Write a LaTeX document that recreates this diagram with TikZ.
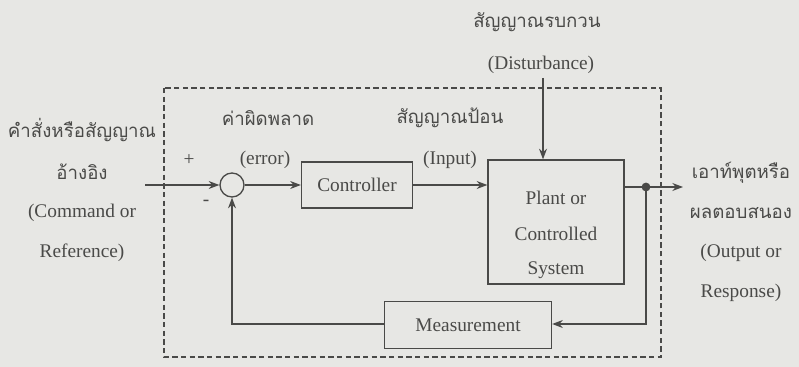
\documentclass[tikz,border=0pt]{standalone}
\usepackage{fontspec}
\setmainfont{Liberation Serif}
\newfontfamily\thaifont[Script=Thai]{Loma}
\usetikzlibrary{arrows.meta}
\definecolor{bg}{HTML}{E7E7E4}
\definecolor{ink}{HTML}{4A4A48}
\begin{document}
\begin{tikzpicture}[x=0.75pt,y=-0.75pt,
  every node/.style={text=ink,font=\fontsize{14.5}{16}\selectfont},
  thai/.style={font=\thaifont\fontsize{14}{16}\selectfont},
  blk/.style={draw=ink,line width=1pt,inner sep=0pt},
  wire/.style={draw=ink,line width=1pt},
  arr/.style={wire,-{Stealth[length=8pt,width=6pt]}}]
\fill[bg] (0,0) rectangle (799,367);
\useasboundingbox (0,0) rectangle (799,367);
% dashed system boundary
\draw[ink,line width=0.9pt,dash pattern=on 4pt off 2.5pt] (164,88) rectangle (661,357);
% blocks
\node[circle,draw=ink,line width=1pt,minimum size=24*0.75pt,inner sep=0pt] (sum) at (232,185) {};
\node[blk,minimum width=111*0.75pt,minimum height=46*0.75pt] (ctrl) at (357,185) {Controller};
\node[blk,minimum width=136*0.75pt,minimum height=124*0.75pt] (plant) at (556,222) {};
\node at (556,198) {Plant or};
\node at (556,234) {Controlled};
\node at (556,270) {System};
\node[blk,minimum width=167*0.75pt,minimum height=47*0.75pt] (meas) at (468,325) {Measurement};
% coordinates
\coordinate (in) at (145,185);
\coordinate (dist) at (543,78);
\coordinate (br) at (646,187);
\coordinate (out) at (683,187);
\coordinate (fb) at (646,324);
\coordinate (fl) at (232,324);
% connectors
\draw[arr] (in) -- (sum.west);
\draw[arr] (sum.east) -- (ctrl.west);
\draw[arr] (ctrl.east) -- (plant.west |- ctrl.east);
\draw[arr] (dist) -- (dist |- plant.north);
\draw[wire] (plant.east |- br) -- (br);
\draw[arr] (br) -- (out);
\fill[ink] (br) circle (3.3pt);
\draw[arr] (br) -- (fb) -- (meas.east |- fb);
\draw[arr] (meas.west |- fl) -- (fl) -- (sum.south);
% signs
\node at (189,160) {+};
\node at (206,203) {-};
% labels
\node[thai] (lref1) at (82,130) {คำสั่งหรือสัญญาณ};
\node[thai] (lref2) at (82,172) {อ้างอิง};
\node (lref3) at (82,213) {(Command or};
\node (lref4) at (82,253) {Reference)};
\node[thai] (lerr1) at (268,118) {ค่าผิดพลาด};
\node (lerr2) at (265,160) {(error)};
\node[thai] (lin1) at (450,118) {สัญญาณป้อน};
\node (lin2) at (450,160) {(Input)};
\node[thai] (ldist1) at (537,22) {สัญญาณรบกวน};
\node (ldist2) at (541,65) {(Disturbance)};
\node[thai] (lout1) at (741,173) {เอาท์พุตหรือ};
\node[thai] (lout2) at (741,213) {ผลตอบสนอง};
\node (lout3) at (741,253) {(Output or};
\node (lout4) at (741,293) {Response)};
\end{tikzpicture}
\end{document}
